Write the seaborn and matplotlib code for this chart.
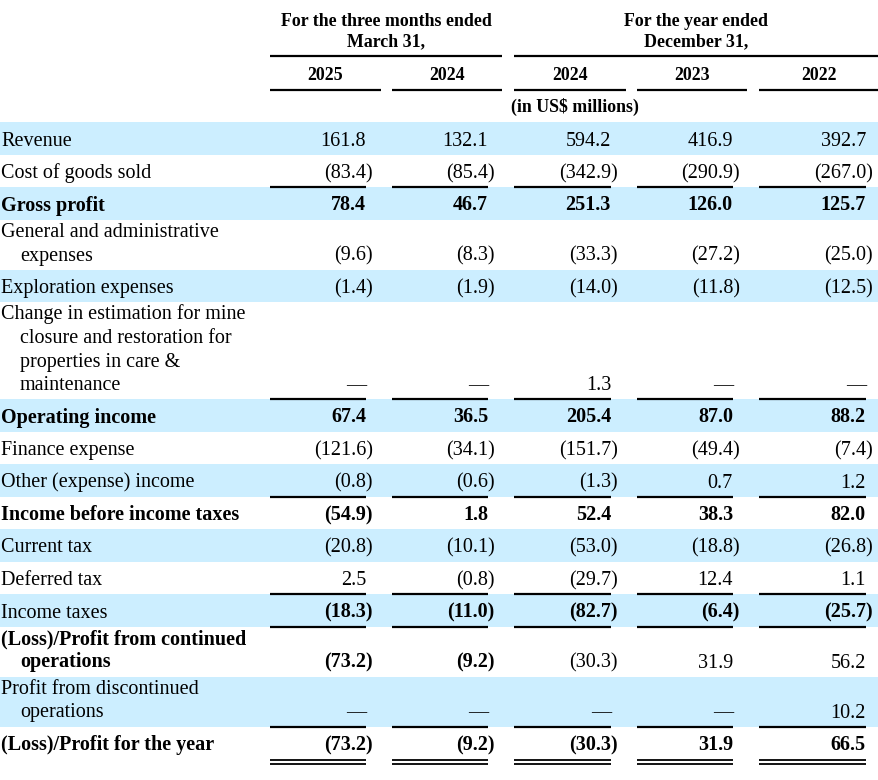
import matplotlib
matplotlib.use("Agg")
import matplotlib.pyplot as plt
import seaborn as sns

# ---- table data -------------------------------------------------------------
GROUPS = [["For the three months ended", "March 31,"],
          ["For the year ended", "December 31,"]]
YEARS = ["2025", "2024", "2024", "2023", "2022"]
UNIT = "(in US$ millions)"

LABELS = [
    ["Revenue"],
    ["Cost of goods sold"],
    ["Gross profit"],
    ["General and administrative", "expenses"],
    ["Exploration expenses"],
    ["Change in estimation for mine", "closure and restoration for",
     "properties in care &", "maintenance"],
    ["Operating income"],
    ["Finance expense"],
    ["Other (expense) income"],
    ["Income before income taxes"],
    ["Current tax"],
    ["Deferred tax"],
    ["Income taxes"],
    ["(Loss)/Profit from continued", "operations"],
    ["Profit from discontinued", "operations"],
    ["(Loss)/Profit for the year"],
]

Q1_2025 = [161.8, -83.4, 78.4, -9.6, -1.4, None, 67.4, -121.6, -0.8, -54.9,
           -20.8, 2.5, -18.3, -73.2, None, -73.2]
Q1_2024 = [132.1, -85.4, 46.7, -8.3, -1.9, None, 36.5, -34.1, -0.6, 1.8,
           -10.1, -0.8, -11.0, -9.2, None, -9.2]
FY_2024 = [594.2, -342.9, 251.3, -33.3, -14.0, 1.3, 205.4, -151.7, -1.3, 52.4,
           -53.0, -29.7, -82.7, -30.3, None, -30.3]
FY_2023 = [416.9, -290.9, 126.0, -27.2, -11.8, None, 87.0, -49.4, 0.7, 38.3,
           -18.8, 12.4, -6.4, 31.9, None, 31.9]
FY_2022 = [392.7, -267.0, 125.7, -25.0, -12.5, None, 88.2, -7.4, 1.2, 82.0,
           -26.8, 1.1, -25.7, 56.2, 10.2, 66.5]
COLUMNS = [Q1_2025, Q1_2024, FY_2024, FY_2023, FY_2022]

# ---- styling ----------------------------------------------------------------
BOLD_LABEL_ROWS = {2, 6, 9, 13, 15}
BOLD_VALUE_ROWS = {2, 6, 9, 12, 15}
PARTIAL_BOLD = {13: [True, True, False, False, False]}
RULE_AFTER = {1, 5, 8, 11, 12, 14}
DOUBLE_AFTER = {15}

BAND = "#CCEEFF"
INK = "#000000"
BODY_FS = 14.5
HEAD_FS = 12.9

W, H = 879, 780
COL_START = [270, 392, 514, 637, 759]
COL_END = [366, 488, 611, 733, 866]
YEAR_RULE_END = [381, 502, 626, 747, 879]
GROUP_SPAN = [(270, 502), (514, 879)]
PAREN_W = 6.8
TABLE_TOP = 122
LINE_H = 23.5


def fmt(v):
    if v is None:
        return "\u2014"
    if v < 0:
        return f"({abs(v):.1f})"
    return f"{v:.1f}"


def main():
    sns.set_theme(style="white")
    plt.rcParams["font.family"] = ["Liberation Serif", "DejaVu Serif"]

    fig = plt.figure(figsize=(W / 100, H / 100), dpi=100)
    fig.patch.set_facecolor("white")
    ax = fig.add_axes([0, 0, 1, 1])
    ax.set_xlim(0, W)
    ax.set_ylim(H, 0)
    ax.axis("off")

    # header
    for (x0, x1), lines in zip(GROUP_SPAN, GROUPS):
        cx = (x0 + x1) / 2
        for k, line in enumerate(lines):
            ax.text(cx, 26 + 20 * k, line, ha="center", va="baseline",
                    fontsize=HEAD_FS, fontweight="bold", color=INK)
        ax.hlines(56, x0, x1, color=INK, lw=1.6)
    for x0, x1, yr in zip(COL_START, YEAR_RULE_END, YEARS):
        ax.text((x0 + x1) / 2, 80.5, yr, ha="center", va="baseline",
                fontsize=HEAD_FS, fontweight="bold", color=INK)
        ax.hlines(89.5, x0, x1, color=INK, lw=1.6)
    ax.text((270 + 879) / 2, 112, UNIT, ha="center", va="baseline",
            fontsize=HEAD_FS, fontweight="bold", color=INK)

    # body
    top = TABLE_TOP
    for i, lines in enumerate(LABELS):
        n = len(lines)
        h = 32.5 if n == 1 else 26.5 + LINE_H * (n - 1)
        bottom = top + h
        if i % 2 == 0:
            ax.axhspan(top, bottom, color=BAND, lw=0, zorder=0)
        base = bottom - 9
        lw_label = "bold" if i in BOLD_LABEL_ROWS else "normal"
        for k, line in enumerate(lines):
            y = base - LINE_H * (n - 1 - k)
            x = 1.5 if k == 0 else 20
            ax.text(x, y, line, ha="left", va="baseline", fontsize=BODY_FS,
                    fontweight=lw_label, color=INK)
        for j, col in enumerate(COLUMNS):
            v = col[i]
            if i in PARTIAL_BOLD:
                bold = PARTIAL_BOLD[i][j]
            else:
                bold = i in BOLD_VALUE_ROWS
            xr = COL_END[j] + (PAREN_W if (v is not None and v < 0) else 0)
            ax.text(xr, base, fmt(v), ha="right", va="baseline",
                    fontsize=BODY_FS, fontweight="bold" if bold else "normal",
                    color=INK)
        if i in RULE_AFTER:
            ax.hlines([bottom] * 5, COL_START, COL_END, color=INK, lw=1.6,
                      zorder=3)
        if i in DOUBLE_AFTER:
            ax.hlines([bottom + 0.5] * 5, COL_START, COL_END, color=INK,
                      lw=1.3, zorder=3)
            ax.hlines([bottom + 4.5] * 5, COL_START, COL_END, color=INK,
                      lw=1.3, zorder=3)
        top = bottom

    fig.savefig("out.png", dpi=100, facecolor="white")
    plt.close(fig)


if __name__ == "__main__":
    main()
